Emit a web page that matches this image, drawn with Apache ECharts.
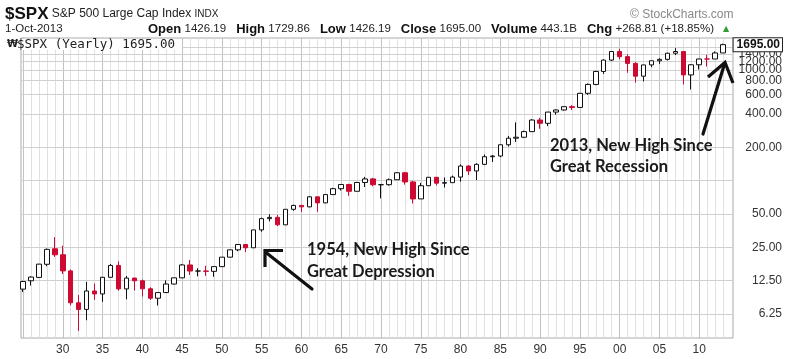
<!DOCTYPE html>
<html><head><meta charset="utf-8">
<script src="https://cdn.jsdelivr.net/npm/echarts@6/dist/echarts.min.js"></script>
<style>html,body{margin:0;padding:0;background:#fff}#c{width:800px;height:359px}</style>
</head><body><div id="c"></div>
<script>
const years = [1925,1926,1927,1928,1929,1930,1931,1932,1933,1934,1935,1936,1937,1938,1939,1940,1941,1942,1943,1944,1945,1946,1947,1948,1949,1950,1951,1952,1953,1954,1955,1956,1957,1958,1959,1960,1961,1962,1963,1964,1965,1966,1967,1968,1969,1970,1971,1972,1973,1974,1975,1976,1977,1978,1979,1980,1981,1982,1983,1984,1985,1986,1987,1988,1989,1990,1991,1992,1993,1994,1995,1996,1997,1998,1999,2000,2001,2002,2003,2004,2005,2006,2007,2008,2009,2010,2011,2012,2013];
const opens = [10.5,12.5,13.4,17.6,24.3,21.45,15.34,7.9,6.89,10.1,9.5,13.43,17.18,10.55,13.21,12.49,10.58,8.69,9.77,11.67,13.28,17.36,15.3,15.3,15.2,16.76,20.41,23.77,26.57,24.81,35.98,45.48,46.67,39.99,55.21,59.89,58.11,71.55,63.1,75.02,84.75,92.43,80.33,96.47,103.86,92.06,92.15,102.09,118.05,97.55,68.56,90.19,107.46,95.1,96.11,107.94,135.76,122.55,140.64,164.93,167.24,211.28,242.17,247.08,277.72,353.4,330.22,417.09,435.71,466.45,459.27,615.93,740.74,970.43,1229.23,1469.25,1320.28,1148.08,879.82,1111.92,1211.92,1248.29,1418.3,1468.36,903.25,1115.1,1257.64,1257.6,1426.19];
const highs = [12.5,13.7,17.7,24.4,31.0,25.9,15.8,9.3,12.2,11.8,13.5,17.7,18.7,13.8,13.3,12.8,10.9,9.8,12.6,13.3,17.7,19.25,16.2,17.06,16.79,20.43,23.85,26.59,26.66,35.98,46.41,49.74,49.13,55.21,60.71,60.39,72.64,71.6,75.18,86.28,92.63,94.06,97.59,108.37,106.16,93.46,104.77,119.12,120.24,99.8,95.61,107.83,107.97,106.99,111.27,140.52,138.12,143.68,172.65,170.41,212.02,254.0,336.77,283.66,359.8,369.78,418.32,442.65,470.94,482.0,621.69,757.03,983.79,1244.93,1478.0,1552.87,1383.37,1176.97,1112.56,1217.33,1275.8,1431.81,1576.09,1471.77,1130.38,1262.6,1370.58,1474.51,1729.86];
const lows = [9.9,11.3,13.2,16.9,20.5,14.4,7.5,4.4,5.5,8.4,8.06,13.4,10.17,8.5,10.2,9.0,8.4,7.47,9.7,11.6,13.2,14.1,13.7,13.84,13.55,16.65,20.4,23.09,22.71,24.8,34.58,42.94,38.98,39.9,53.58,52.2,57.57,52.32,62.69,74.9,81.6,73.2,80.2,87.72,89.2,69.29,90.16,101.67,92.16,62.28,68.4,90.0,90.71,86.9,96.0,98.22,112.77,101.44,138.34,147.82,163.36,203.49,223.92,242.63,275.31,294.51,311.49,394.5,429.05,435.86,459.14,597.29,729.55,923.32,1205.46,1254.07,944.75,768.63,788.9,1060.72,1136.15,1219.29,1363.98,741.02,666.79,1010.91,1074.77,1257.6,1426.19];
const closes = [12.3,13.49,17.66,24.0,21.45,15.34,7.9,6.89,10.1,9.5,13.43,17.18,10.55,13.21,12.49,10.58,8.69,9.77,11.67,13.28,17.36,15.3,15.3,15.2,16.76,20.41,23.77,26.57,24.81,35.98,45.48,46.67,39.99,55.21,59.89,58.11,71.55,63.1,75.02,84.75,92.43,80.33,96.47,103.86,92.06,92.15,102.09,118.05,97.55,68.56,90.19,107.46,95.1,96.11,107.94,135.76,122.55,140.64,164.93,167.24,211.28,242.17,247.08,277.72,353.4,330.22,417.09,435.71,466.45,459.27,615.93,740.74,970.43,1229.23,1469.25,1320.28,1148.08,879.82,1111.92,1211.92,1248.29,1418.3,1468.36,903.25,1115.1,1257.64,1257.6,1426.19,1695.0];
const xLabelYears = [1930,1935,1940,1945,1950,1955,1960,1965,1970,1975,1980,1985,1990,1995,2000,2005,2010];
const yLabelValues = [6.25,12.5,25,50,200,400,600,800,1000,1200,1400];
const yGridValues = [6.25,12.5,25,50,100,200,400,600,800,1000,1200,1400,1600];
const lastClose = 1695.00;

const RED = '#cc0a32';
const chart = echarts.init(document.getElementById('c'), null, {renderer: 'canvas'});

const candleData = years.map((y, i) => [y, opens[i], closes[i], lows[i], highs[i]]);

const vLines = years.map(y => ({
  xAxis: y,
  label: {show: false},
  lineStyle: {color: y % 5 === 0 ? '#c2c2c2' : '#e0e0e0', width: 1, type: 'solid'}
}));
const hLines = yGridValues.map(v => ({
  yAxis: v,
  label: yLabelValues.indexOf(v) >= 0 ? {show: true} : {show: false},
  lineStyle: {color: '#cfcfcf', width: 1, type: 'solid'}
}));

const option = {
  animation: false,
  backgroundColor: '#fff',
  grid: {left: 21, right: 67, top: 38, bottom: 21, show: true, borderColor: '#aaa', borderWidth: 1, outerBoundsMode: 'none'},
  xAxis: {
    type: 'value', min: 1924.75, max: 2014.25,
    splitLine: {show: false}, axisLine: {show: false}, axisTick: {show: false},
    axisLabel: {
      customValues: xLabelYears, margin: 6,
      formatter: v => String(Math.round(v) % 100).padStart(2, '0'),
      fontFamily: 'Liberation Sans', fontSize: 12, color: '#333'
    }
  },
  yAxis: {
    type: 'log', logBase: 2, min: 3.8, max: 1946, position: 'right',
    splitLine: {show: false}, axisLine: {show: false}, axisTick: {show: false},
    axisLabel: {show: false}
  },
  series: [{
    type: 'candlestick',
    z: 3,
    data: candleData,
    encode: {x: 0, y: [1, 2, 3, 4]},
    barWidth: 5,
    itemStyle: {color: '#ffffff', color0: RED, borderColor: '#111', borderColor0: RED, borderWidth: 1},
    markLine: {
      z: 1, silent: true, symbol: ['none', 'none'], animation: false,
      label: {
        position: 'end', distance: 49, align: 'right',
        formatter: p => Number(p.value).toFixed(2),
        fontFamily: 'Liberation Sans', fontSize: 12, color: '#333'
      },
      emphasis: {disabled: true},
      data: vLines.concat(hLines)
    }
  }, {
    type: 'line',
    z: 6,
    data: [],
    markLine: {
      z: 6, silent: true, symbol: ['none', 'none'], animation: false,
      emphasis: {disabled: true},
      data: [{
        yAxis: lastClose,
        lineStyle: {color: 'rgba(0,0,0,0)', width: 1},
        label: {
          show: true, position: 'end', distance: 49, align: 'right',
          formatter: () => lastClose.toFixed(2),
          fontFamily: 'Liberation Sans', fontWeight: 'bold', fontSize: 12, color: '#111',
          backgroundColor: '#fff', borderColor: '#222', borderWidth: 1,
          padding: [1, 2, 0, 3]
        }
      }]
    }
  }],
  graphic: {elements: [
    {type: 'text', x: 5, y: 14, style: {
      text: '{a|$SPX} {b|S&P 500 Large Cap Index} {c|INDX}', verticalAlign: 'middle',
      rich: {
        a: {font: 'bold 17px "Liberation Sans"', fill: '#111'},
        b: {font: '12px "Liberation Sans"', fill: '#222'},
        c: {font: '10px "Liberation Sans"', fill: '#222'}
      }}},
    {type: 'text', x: 630, y: 15, style: {text: '\u00a9 StockCharts.com', font: '12px "Liberation Sans"', fill: '#888', verticalAlign: 'middle'}},
    {type: 'text', x: 5, y: 29, style: {text: '1-Oct-2013', font: '11.5px "Liberation Sans"', fill: '#222', verticalAlign: 'middle'}},
    {type: 'text', x: 148, y: 29, style: {
      text: '{b|Open} {v|1426.19}   {b|High} {v|1729.86}   {b|Low} {v|1426.19}   {b|Close} {v|1695.00}   {b|Volume} {v|443.1B}   {b|Chg} {v|+268.81 (+18.85%)}',
      verticalAlign: 'middle',
      rich: {
        b: {font: 'bold 13px "Liberation Sans"', fill: '#111'},
        v: {font: '11.5px "Liberation Sans"', fill: '#222'}
      }}},
    {type: 'text', x: 723, y: 29, style: {text: '\u25B2', font: '8px "DejaVu Sans"', fill: '#2f9e35', verticalAlign: 'middle'}},
    {type: 'rect', shape: {x: 22, y: 39, width: 160, height: 11}, style: {fill: '#fff'}, z: 10},
    {type: 'text', x: 7, y: 44.5, z: 11, style: {text: '\u20A9', font: 'bold 10px "DejaVu Sans"', fill: '#222', verticalAlign: 'middle'}},
    {type: 'text', x: 17, y: 44.5, z: 11, style: {text: '$SPX (Yearly) 1695.00', font: '12.5px "DejaVu Sans Mono"', fill: '#222', verticalAlign: 'middle'}},
    {type: 'text', x: 307, y: 250, z: 12, style: {text: '1954, New High Since', font: 'bold 16.5px Lato', fill: '#1a1a1a', verticalAlign: 'middle'}},
    {type: 'text', x: 307, y: 272, z: 12, style: {text: 'Great Depression', font: 'bold 16.5px Lato', fill: '#1a1a1a', verticalAlign: 'middle'}},
    {type: 'text', x: 550, y: 146, z: 12, style: {text: '2013, New High Since', font: 'bold 16.5px Lato', fill: '#1a1a1a', verticalAlign: 'middle'}},
    {type: 'text', x: 550, y: 167, z: 12, style: {text: 'Great Recession', font: 'bold 16.5px Lato', fill: '#1a1a1a', verticalAlign: 'middle'}},
    {type: 'polyline', z: 12, shape: {points: [[312, 289], [266, 252.5]]}, style: {stroke: '#111', lineWidth: 3.2, lineCap: 'round', fill: null}},
    {type: 'polyline', z: 12, shape: {points: [[283, 250.5], [265, 250.5], [265, 267]]}, style: {stroke: '#111', lineWidth: 3.2, lineJoin: 'miter', fill: null}},
    {type: 'polyline', z: 12, shape: {points: [[703, 134], [724.5, 64]]}, style: {stroke: '#111', lineWidth: 3.2, lineCap: 'round', fill: null}},
    {type: 'polyline', z: 12, shape: {points: [[708, 77], [725, 62.5], [733, 83]]}, style: {stroke: '#111', lineWidth: 3.2, lineJoin: 'miter', fill: null}}
  ]}
};
chart.setOption(option);
</script></body></html>
